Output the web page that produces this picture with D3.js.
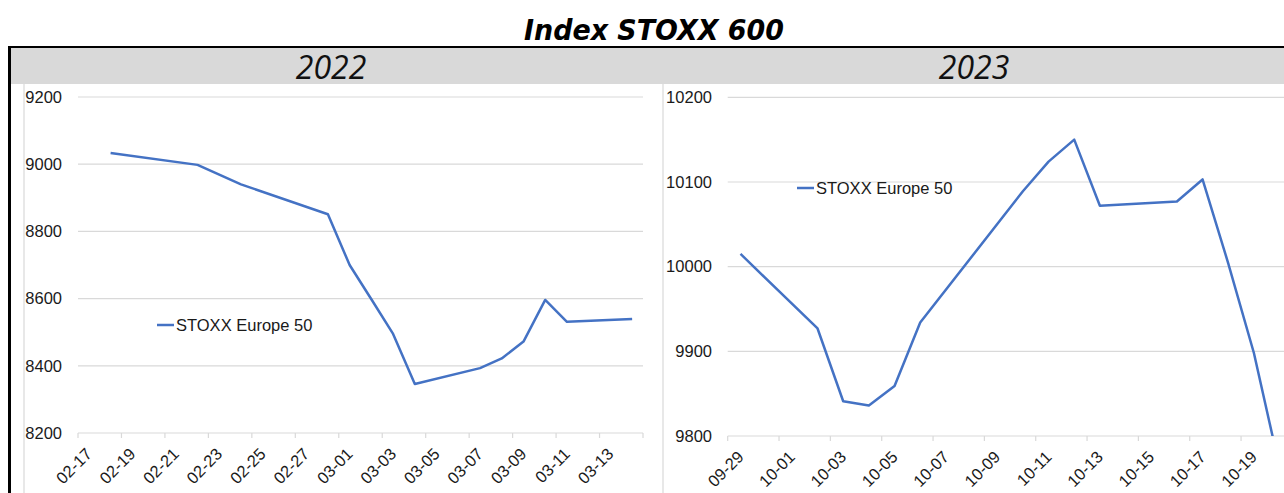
<!DOCTYPE html>
<html>
<head>
<meta charset="utf-8">
<script src="https://cdn.jsdelivr.net/npm/d3@7"></script>
<style>
  body { margin: 0; background: #fff; }
  text { font-family: "Liberation Sans", Arial, sans-serif; }
</style>
</head>
<body>
<div id="chart"></div>
<script>
// data
var seriesName = "STOXX Europe 50";

var dates2022 = ["2022-02-18", "2022-02-22", "2022-02-24", "2022-02-28", "2022-03-01", "2022-03-02",
                 "2022-03-03", "2022-03-04", "2022-03-07", "2022-03-08", "2022-03-09", "2022-03-10",
                 "2022-03-11", "2022-03-14"];
var values2022 = [9033, 8998, 8940, 8851, 8700, 8598, 8495, 8346, 8393, 8422, 8472, 8596, 8531, 8539];
var ticks2022 = ["2022-02-17", "2022-02-19", "2022-02-21", "2022-02-23", "2022-02-25", "2022-02-27",
                 "2022-03-01", "2022-03-03", "2022-03-05", "2022-03-07", "2022-03-09", "2022-03-11",
                 "2022-03-13"];
var yTicks2022 = [8200, 8400, 8600, 8800, 9000, 9200];

var dates2023 = ["2023-09-29", "2023-10-02", "2023-10-03", "2023-10-04", "2023-10-05", "2023-10-06",
                 "2023-10-10", "2023-10-11", "2023-10-12", "2023-10-13", "2023-10-16", "2023-10-17",
                 "2023-10-18", "2023-10-19", "2023-10-20"];
var values2023 = [10015, 9927, 9841, 9836, 9859, 9934, 10089, 10124, 10150, 10072, 10077, 10103,
                  10004, 9898, 9763];
var ticks2023 = ["2023-09-29", "2023-10-01", "2023-10-03", "2023-10-05", "2023-10-07", "2023-10-09",
                 "2023-10-11", "2023-10-13", "2023-10-15", "2023-10-17", "2023-10-19"];
var yTicks2023 = [9800, 9900, 10000, 10100, 10200];

var W = 1284, H = 493;
var parse = d3.utcParse("%Y-%m-%d");
var fmt = d3.utcFormat("%m-%d");

var svg = d3.select("#chart").append("svg")
    .attr("width", W)
    .attr("height", H);

svg.append("rect").attr("width", W).attr("height", H).attr("fill", "#fff");

// title
svg.append("text")
    .attr("x", 654).attr("y", 40)
    .attr("text-anchor", "middle")
    .attr("textLength", 260).attr("lengthAdjust", "spacingAndGlyphs")
    .style("font-family", "'DejaVu Sans', Verdana, sans-serif")
    .style("font-weight", "bold").style("font-style", "italic")
    .style("font-size", "29px")
    .text("Index STOXX 600");

// header band
svg.append("rect")
    .attr("x", 10).attr("y", 48).attr("width", W - 10).attr("height", 36)
    .attr("fill", "#d9d9d9");

function panel(cfg) {
  var x = d3.scaleUtc().domain([parse(cfg.start), parse(cfg.end)]).range([cfg.x0, cfg.x1]);
  var y = d3.scaleLinear().domain(d3.extent(cfg.yTicks)).range([cfg.y1, cfg.y0]);
  var halfDay = (x(d3.utcDay.offset(parse(cfg.start), 1)) - cfg.x0) / 2;

  // year header
  svg.append("text")
      .attr("x", cfg.headX).attr("y", 79)
      .attr("text-anchor", "middle")
      .style("font-family", "'Liberation Sans Narrow', 'Open Sans', sans-serif")
      .style("font-style", "italic")
      .style("font-size", "32px")
      .style("fill", "#111")
      .text(cfg.year);

  // chart area border
  svg.append("line")
      .attr("x1", cfg.borderX).attr("x2", cfg.borderX)
      .attr("y1", 84).attr("y2", H)
      .attr("stroke", "#d9d9d9").attr("stroke-width", 1.2);

  var g = svg.append("g");

  // gridlines
  g.selectAll(".grid")
      .data(cfg.yTicks)
    .enter().append("line")
      .attr("x1", cfg.x0).attr("x2", cfg.x1)
      .attr("y1", function(d) { return y(d); })
      .attr("y2", function(d) { return y(d); })
      .attr("stroke", "#d9d9d9").attr("stroke-width", 1.2);

  // y labels
  g.selectAll(".ylab")
      .data(cfg.yTicks)
    .enter().append("text")
      .attr("x", cfg.labelX)
      .attr("y", function(d) { return y(d); })
      .attr("dy", "0.35em")
      .attr("text-anchor", "end")
      .style("font-size", "16.5px").style("fill", "#1a1a1a")
      .text(function(d) { return d; });

  // x axis ticks
  var tickDates = cfg.ticks.map(parse).concat([parse(cfg.end)]);
  g.selectAll(".xtick")
      .data(tickDates)
    .enter().append("line")
      .attr("x1", function(d) { return x(d); })
      .attr("x2", function(d) { return x(d); })
      .attr("y1", cfg.y1).attr("y2", cfg.y1 + 5)
      .attr("stroke", "#d9d9d9").attr("stroke-width", 1.2);

  g.selectAll(".xlab")
      .data(cfg.ticks.map(parse))
    .enter().append("text")
      .attr("transform", function(d) {
        return "translate(" + (x(d) + halfDay) + "," + (cfg.y1 + 18) + ") rotate(-45)";
      })
      .attr("dy", "0.35em")
      .attr("text-anchor", "end")
      .style("font-size", "16.5px").style("fill", "#1a1a1a")
      .text(function(d) { return fmt(d); });

  // clip to plot area
  svg.append("clipPath").attr("id", "clip" + cfg.year)
    .append("rect")
      .attr("x", cfg.x0).attr("y", cfg.y0 - 5)
      .attr("width", cfg.x1 - cfg.x0).attr("height", cfg.y1 - cfg.y0 + 5);

  var pts = cfg.dates.map(function(d, i) {
    return { date: d3.utcHour.offset(parse(d), 12), value: cfg.values[i] };
  });

  var line = d3.line()
      .x(function(d) { return x(d.date); })
      .y(function(d) { return y(d.value); });

  g.append("path")
      .datum(pts)
      .attr("clip-path", "url(#clip" + cfg.year + ")")
      .attr("d", line)
      .attr("fill", "none")
      .attr("stroke", "#4472c4")
      .attr("stroke-width", 2.5)
      .attr("stroke-linejoin", "round");

  // legend
  g.append("line")
      .attr("x1", cfg.legX).attr("x2", cfg.legX + 17)
      .attr("y1", cfg.legY).attr("y2", cfg.legY)
      .attr("stroke", "#4472c4").attr("stroke-width", 2.5);
  g.append("text")
      .attr("x", cfg.legX + 19).attr("y", cfg.legY)
      .attr("dy", "0.35em")
      .style("font-size", "16.5px").style("fill", "#1a1a1a")
      .text(seriesName);
}

panel({
  year: "2022", dates: dates2022, values: values2022, ticks: ticks2022, yTicks: yTicks2022,
  start: "2022-02-17", end: "2022-03-15",
  x0: 78, x1: 643, y0: 97, y1: 433, labelX: 62, borderX: 24, headX: 331,
  legX: 157, legY: 325
});

panel({
  year: "2023", dates: dates2023, values: values2023, ticks: ticks2023, yTicks: yTicks2023,
  start: "2023-09-29", end: "2023-10-21",
  x0: 727.7, x1: 1292.4, y0: 97.3, y1: 436, labelX: 712, borderX: 663, headX: 974,
  legX: 797, legY: 188
});

// black frame (top and left)
svg.append("line")
    .attr("x1", 8).attr("x2", W).attr("y1", 47).attr("y2", 47)
    .attr("stroke", "#000").attr("stroke-width", 2);
svg.append("line")
    .attr("x1", 9.5).attr("x2", 9.5).attr("y1", 46).attr("y2", H)
    .attr("stroke", "#000").attr("stroke-width", 3);
</script>
</body>
</html>
